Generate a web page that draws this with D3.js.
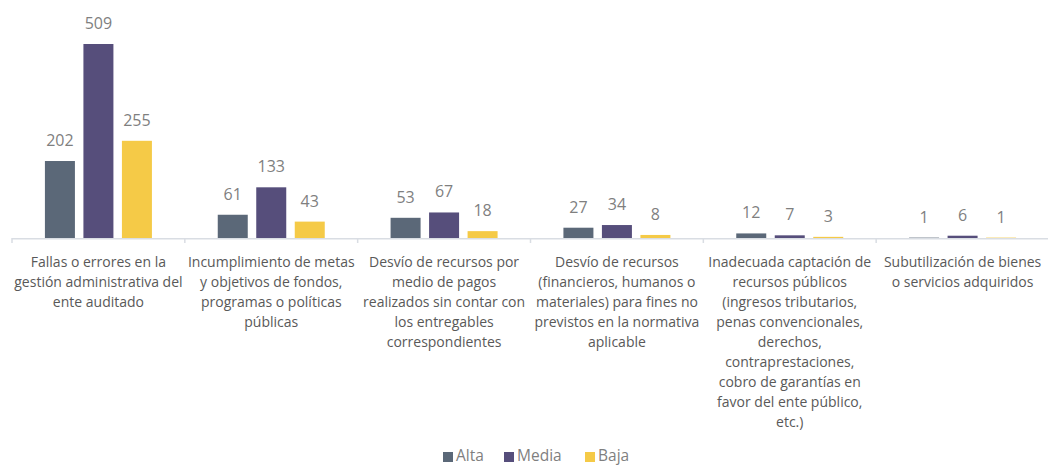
<!DOCTYPE html>
<html><head><meta charset="utf-8">
<script src="https://cdn.jsdelivr.net/npm/d3@7"></script>
<style>body{margin:0;background:#fff}svg{display:block}text{font-family:"Open Sans",sans-serif}</style>
</head><body><svg id="c" width="1048" height="465"></svg>
<script>
const categories = [
  "Fallas o errores en la\ngestión administrativa del\nente auditado",
  "Incumplimiento de metas\ny objetivos de fondos,\nprogramas o políticas\npúblicas",
  "Desvío de recursos por\nmedio de pagos\nrealizados sin contar con\nlos entregables\ncorrespondientes",
  "Desvío de recursos\n(financieros, humanos o\nmateriales) para fines no\nprevistos en la normativa\naplicable",
  "Inadecuada captación de\nrecursos públicos\n(ingresos tributarios,\npenas convencionales,\nderechos,\ncontraprestaciones,\ncobro de garantías en\nfavor del ente público,\netc.)",
  "Subutilización de bienes\no servicios adquiridos"
];
const seriesNames = ["Alta","Media","Baja"];
const alta  = [202, 61, 53, 27, 12, 1];
const media = [509, 133, 67, 34, 7, 6];
const baja  = [255, 43, 18, 8, 3, 1];
const colors = ["#5b6878","#564e7b","#f5ca47"];

const series = [alta, media, baja];
const svg = d3.select("#c");
const left = 12, right = 1049, baseY = 238, topY = 44;
const x0 = d3.scaleBand().domain(categories).range([left, right]).paddingInner(0).paddingOuter(0);
const y = d3.scaleLinear().domain([0, 509]).range([baseY, topY]);
const barW = 30, gap = 8.5;
const x1 = d3.scaleBand().domain(seriesNames).range([0, 3*barW + 2*gap]).paddingInner(gap/(barW+gap)).paddingOuter(0);
const groupW = 3*barW + 2*gap;

const g = svg.append("g");
categories.forEach((c, ci) => {
  const gx = x0(c) + (x0.bandwidth() - groupW) / 2;
  seriesNames.forEach((s, si) => {
    const v = series[si][ci];
    const bx = gx + x1(s);
    g.append("rect").attr("x", bx).attr("y", y(v)).attr("width", x1.bandwidth())
      .attr("height", baseY - y(v)).attr("fill", colors[si]);
    g.append("text").attr("x", bx + x1.bandwidth()/2).attr("y", y(v) - 15)
      .attr("text-anchor", "middle").attr("font-size", 16).attr("fill", "#7f7f7f").text(v);
  });
});

// axis
const ax = svg.append("g").attr("transform", `translate(0,${baseY})`)
  .call(d3.axisBottom(x0).tickSize(0).tickFormat(""));
ax.select(".domain").attr("stroke", "#d9dde3").attr("stroke-width", 1.5).attr("d", `M${left},0.75H${right}`);
const bounds = categories.map(c => x0(c)).concat([right]);
bounds.forEach(b => svg.append("line").attr("x1", b).attr("x2", b).attr("y1", baseY).attr("y2", baseY + 5)
  .attr("stroke", "#d9dde3").attr("stroke-width", 1.5));

// category labels
categories.forEach(c => {
  const t = svg.append("text").attr("text-anchor", "middle").attr("font-size", 14).attr("fill", "#595959");
  c.split("\n").forEach((line, i) => {
    t.append("tspan").attr("x", x0(c) + x0.bandwidth()/2).attr("y", 267 + i*20).text(line);
  });
});

// legend
const legX = [443, 504, 585];
const lg = svg.append("g");
seriesNames.forEach((s, i) => {
  lg.append("rect").attr("x", legX[i]).attr("y", 452).attr("width", 10).attr("height", 10).attr("fill", colors[i]);
  lg.append("text").attr("x", legX[i] + 13).attr("y", 461).attr("font-size", 15.5).attr("fill", "#7f7f7f").text(s);
});
</script></body></html>
